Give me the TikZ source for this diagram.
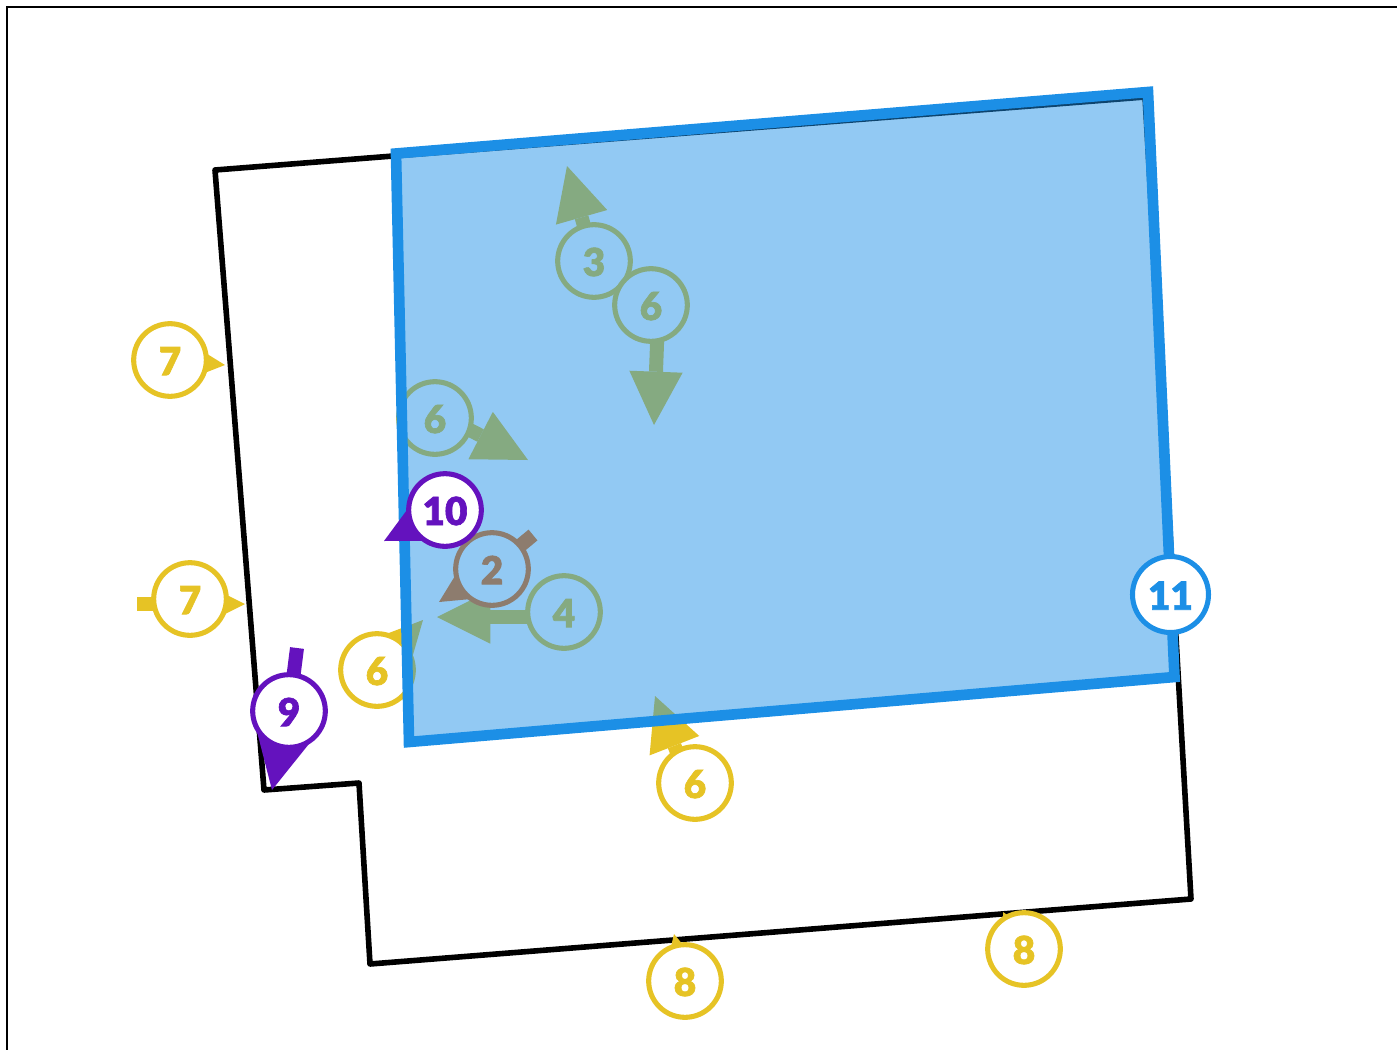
\documentclass[tikz,border=0pt]{standalone}
\usepackage{fontspec}
\setmainfont{Lato}
\newfontfamily\tagfont[FakeBold=1.6]{Lato Black}
\usetikzlibrary{arrows.meta}
\definecolor{tagyellow}{HTML}{E6C325}
\definecolor{tagorange}{HTML}{F56B00}
\definecolor{tagpurple}{HTML}{6412BE}
\definecolor{tagblue}{HTML}{1C8FE6}
\pgfdeclarelayer{outline}
\pgfdeclarelayer{lowstem}
\pgfdeclarelayer{low}
\pgfdeclarelayer{roof}
\pgfdeclarelayer{topstem}
\pgfsetlayers{outline,lowstem,low,roof,topstem,main}

\begin{document}
\begin{tikzpicture}[
    x=0.75pt, y=-0.75pt,
    tag/.style={draw=#1, text=#1, fill=white, circle, line width=3.8pt, minimum size=54.5pt, inner sep=0pt, text height=22.8pt, font=\fontsize{29}{29}\tagfont},
    arr/.style={draw=#1, line width=10.5pt, -{Triangle[length=40pt, width=40pt, line width=0pt, fill=#1]}},
    lot/.style={line width=4.2pt, line join=round},
    zone/.style={draw=tagblue, line width=8pt, fill=tagblue, fill opacity=0.48, line join=miter}
]
\useasboundingbox (0,0) rectangle (1397,1050);
\draw[line width=2.2pt] (7,1050) -- (7,7) -- (1397,7);

% arrow ends
\coordinate (t3) at (567,166);
\coordinate (t6a) at (654,425);
\coordinate (t6b) at (528,460);
\coordinate (t10) at (384,541);
\coordinate (t2) at (439,602);
\coordinate (b2) at (533,535);
\coordinate (t4) at (437,617);
\coordinate (t6c) at (423,620);
\coordinate (t7a) at (225,365);
\coordinate (t7b) at (245,604);
\coordinate (b7b) at (137,604);
\coordinate (t9) at (272,790);
\coordinate (b9) at (297,648);
\coordinate (t6d) at (655,696);
\coordinate (t8a) at (674,934);
\coordinate (t8b) at (1003,912);

\begin{pgfonlayer}{outline}
\draw[lot] (215,170) -- (1145,97) -- (1191,899) -- (370,964) -- (359,783) -- (264,790) -- cycle;
\end{pgfonlayer}

\begin{pgfonlayer}{low}
\node[tag=tagyellow] (n3) at (594,261) {3};
\node[tag=tagyellow] (n6a) at (651,305) {6};
\node[tag=tagyellow] (n6b) at (435,418) {6};
\node[tag=tagorange] (n2) at (492,569) {2};
\node[tag=tagyellow] (n4) at (564,612) {4};
\node[tag=tagyellow] (n6c) at (377,670) {6};
\node[tag=tagyellow] (n7a) at (170,360) {7};
\node[tag=tagyellow] (n7b) at (190,599) {7};
\node[tag=tagyellow] (n6d) at (695,783) {6};
\node[tag=tagyellow] (n8a) at (685,981) {8};
\node[tag=tagyellow] (n8b) at (1024,949) {8};
\end{pgfonlayer}

\begin{pgfonlayer}{lowstem}
\draw[arr=tagyellow] (n3.center) -- (t3);
\draw[arr=tagyellow] ([xshift=5.6pt]n6a.center) -- (t6a);
\draw[arr=tagyellow] ([yshift=4.5pt]n6b.center) -- (t6b);
\draw[arr=tagorange] (b2) -- (n2.center) -- (t2);
\draw[arr=tagyellow] (n4.center |- t4) -- (t4);
\draw[arr=tagyellow] (n6c.center) -- (t6c);
\draw[arr=tagyellow] (n7a.center) -- (t7a);
\draw[arr=tagyellow] (b7b) -- (n7b.center |- b7b) -- (t7b);
\draw[arr=tagyellow] ([xshift=-4.5pt]n6d.center) -- (t6d);
\draw[arr=tagyellow] (n8a.center) -- (t8a);
\draw[arr=tagyellow] (n8b.center) -- (t8b);
\end{pgfonlayer}

\begin{pgfonlayer}{roof}
\draw[zone] (396,153.5) -- (1148,92) -- (1174.5,677) -- (409,742) -- cycle;
\end{pgfonlayer}

\node[tag=tagpurple] (n10) at (445,510) {10};
\node[tag=tagpurple] (n9) at (289,711) {9};
\node[tag=tagblue, minimum size=57pt] (n11) at (1170.5,594.5) {11};

\begin{pgfonlayer}{topstem}
\draw[arr=tagpurple] (n10.center) -- (t10);
\draw[arr=tagpurple] (b9) -- (n9.center) -- (t9);
\end{pgfonlayer}
\end{tikzpicture}
\end{document}
